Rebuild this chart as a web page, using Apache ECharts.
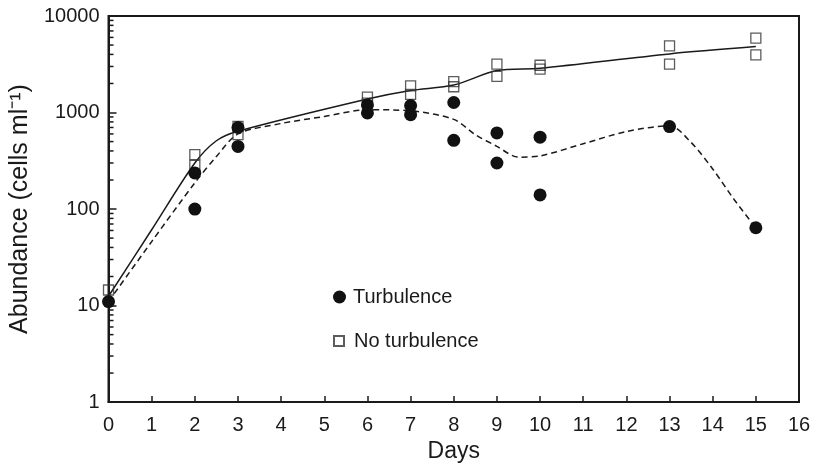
<!DOCTYPE html>
<html>
<head>
<meta charset="utf-8">
<script src="https://cdn.jsdelivr.net/npm/echarts@6/dist/echarts.min.js"></script>
<style>html,body{margin:0;padding:0;background:#fff}#c{width:816px;height:468px}</style>
</head>
<body>
<div id="c"></div>
<script>
// Turbulence (filled circles) observations
var turbDays = [0, 2, 2, 3, 3, 6, 6, 7, 7, 8, 8, 9, 9, 10, 10, 13, 15];
var turbVals = [11, 237, 100, 700, 445, 1200, 990, 1180, 950, 1270, 515, 615, 300, 555, 140, 715, 64];
// No turbulence (open squares) observations
var noTurbDays = [0, 2, 2, 3, 3, 6, 6, 7, 7, 8, 8, 9, 9, 10, 10, 13, 13, 15, 15];
var noTurbVals = [14.5, 366, 284, 720, 590, 1445, 1250, 1890, 1540, 2090, 1850, 3170, 2370, 3090, 2810, 4900, 3170, 5900, 3950];
// Fitted curve, no turbulence (solid)
var fitNoDays = [0, 1, 2, 2.5, 3, 6, 7, 8, 9, 10, 13, 15];
var fitNoVals = [12.5, 61, 300, 510, 640, 1380, 1690, 1930, 2720, 2880, 4050, 4820];
// Fitted curve, turbulence (dashed)
var fitTDays = [0, 1, 2, 2.5, 3, 4, 5, 6, 7, 8, 8.5, 9, 9.5, 10, 11, 12, 13, 13.5, 14, 14.5, 15];
var fitTVals = [11, 46, 187, 350, 600, 770, 910, 1070, 1040, 850, 590, 446, 345, 355, 475, 635, 730, 490, 260, 125, 64];
// Minor log tick values (axis decoration)
var minorTicks = [2,3,4,5,6,7,8,9,20,30,40,50,60,70,80,90,200,300,400,500,600,700,800,900,2000,3000,4000,5000,6000,7000,8000,9000];

function pairs(xs, ys) { return xs.map(function (x, i) { return [x, ys[i]]; }); }

var FONT = 'Liberation Sans, Arial, Helvetica, sans-serif';
var INK = '#1a1a1a';

var chart = echarts.init(document.getElementById('c'), null, {renderer: 'canvas'});
chart.setOption({
  animation: false,
  backgroundColor: '#fff',
  grid: {left: 108, right: 17, top: 16, bottom: 65, show: true, borderColor: INK, borderWidth: 2, backgroundColor: 'transparent'},
  legend: [
    {data: [{name: 'Turbulence', icon: 'circle'}], left: 333, top: 287, padding: 0, itemWidth: 13, itemHeight: 13, selectedMode: false,
     textStyle: {fontFamily: FONT, fontSize: 20, color: INK, padding: [0, 0, 0, 2]}},
    {data: [{name: 'No turbulence', icon: 'rect'}], left: 333, top: 331, padding: 0, itemWidth: 10, itemHeight: 10, selectedMode: false,
     textStyle: {fontFamily: FONT, fontSize: 20, color: INK, padding: [0, 0, 0, 5]}}
  ],
  xAxis: {
    type: 'value', min: 0, max: 16, interval: 1,
    name: 'Days', nameLocation: 'middle', nameGap: 37,
    nameTextStyle: {fontFamily: FONT, fontSize: 23, color: INK},
    axisLine: {lineStyle: {color: INK, width: 2}},
    axisTick: {show: true, inside: true, length: 6, lineStyle: {color: INK, width: 1.5}},
    axisLabel: {fontFamily: FONT, fontSize: 20, color: INK, margin: 13},
    splitLine: {show: false}
  },
  yAxis: {
    type: 'log', logBase: 10, min: 1, max: 10000,
    name: 'Abundance (cells ml\u207B\u00B9)', nameLocation: 'middle', nameGap: 72,
    nameTextStyle: {fontFamily: FONT, fontSize: 25, color: INK},
    axisLine: {lineStyle: {color: INK, width: 2}},
    axisTick: {show: true, inside: true, length: 8, lineStyle: {color: INK, width: 1.5}},
    axisLabel: {fontFamily: FONT, fontSize: 20, color: INK, margin: 9, formatter: function (v) { return String(Math.round(v)); }},
    splitLine: {show: false}
  },
  series: [
    {
      // minor log ticks on the y axis, positioned through the axis scale
      name: 'minorTicks', type: 'custom', silent: true, z: 5,
      data: minorTicks.map(function (v) { return [0, v]; }),
      renderItem: function (params, api) {
        var p = api.coord([0, api.value(1)]);
        return {type: 'line', shape: {x1: p[0], y1: p[1], x2: p[0] + 5, y2: p[1]},
                style: {stroke: INK, lineWidth: 1.5}};
      }
    },
    {name: 'fitNo', type: 'line', data: pairs(fitNoDays, fitNoVals), smooth: 0.3, symbol: 'none', z: 2,
     lineStyle: {color: INK, width: 1.5}},
    {name: 'fitT', type: 'line', data: pairs(fitTDays, fitTVals), smooth: 0.3, symbol: 'none', z: 2,
     lineStyle: {color: INK, width: 1.5, type: [6, 4]}},
    {name: 'No turbulence', type: 'scatter', data: pairs(noTurbDays, noTurbVals), symbol: 'rect', symbolSize: 10, z: 3,
     itemStyle: {color: 'rgba(255,255,255,0)', borderColor: '#333', borderWidth: 1.3}},
    {name: 'Turbulence', type: 'scatter', data: pairs(turbDays, turbVals), symbol: 'circle', symbolSize: 13, z: 4,
     itemStyle: {color: '#111', opacity: 1}}
  ]
});
</script>
</body>
</html>
